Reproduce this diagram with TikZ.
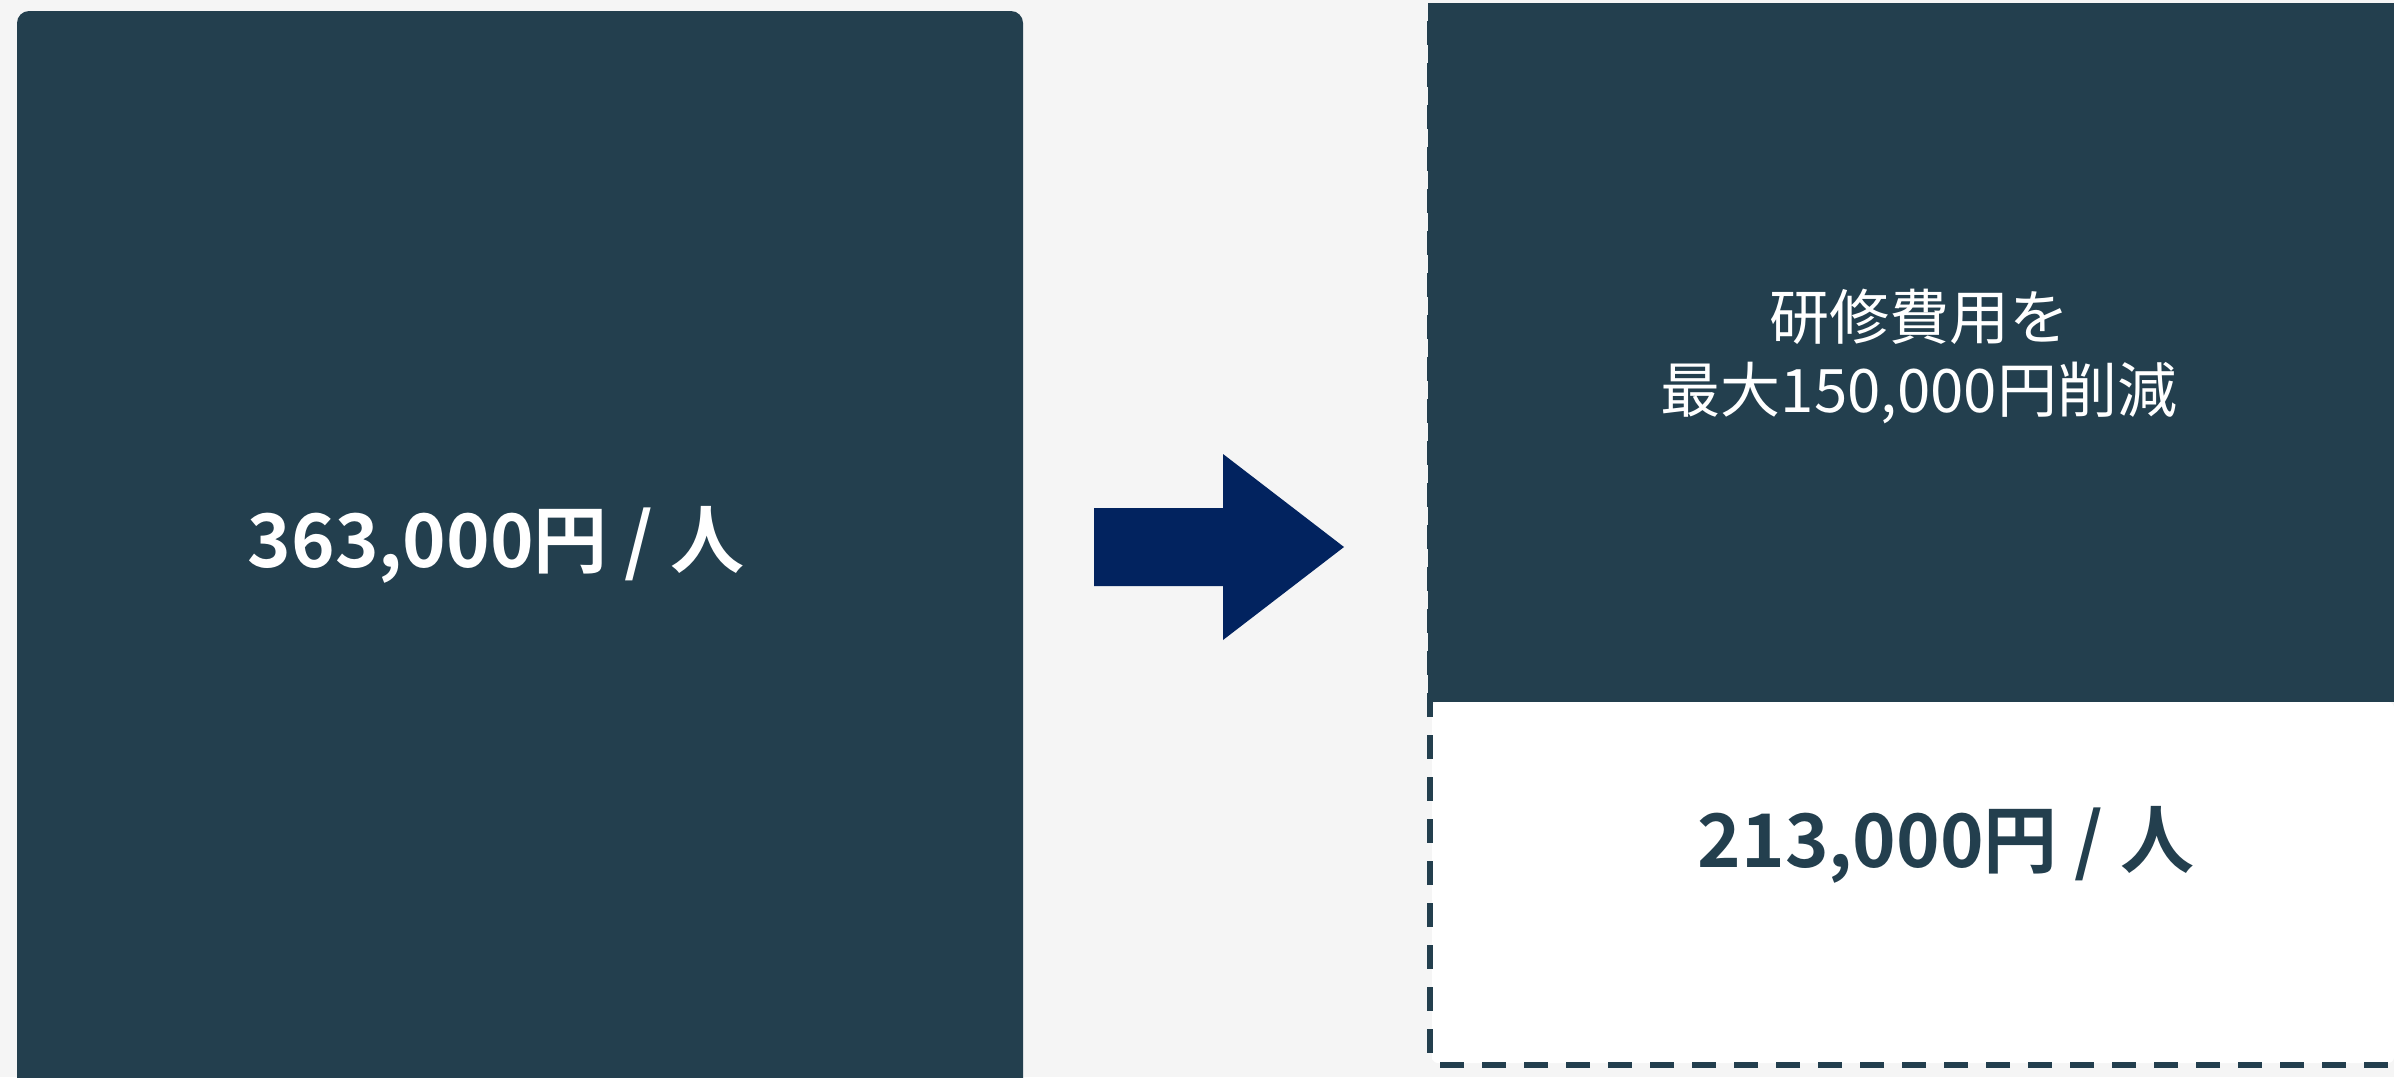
\documentclass[tikz,border=0pt]{standalone}
\usepackage{fontspec}
\usepackage{xcolor}
\usepackage{tikz}
\newfontfamily\cjk{Noto Sans CJK JP}
\newfontfamily\cjkbf{Noto Sans CJK JP Bold}

\definecolor{bgcol}{HTML}{F5F5F5}
\definecolor{boxcol}{HTML}{233F4E}
\definecolor{arrowcol}{HTML}{02235F}

\begin{document}
\begin{tikzpicture}[x=0.5pt,y=-0.5pt]
\useasboundingbox (0,0) rectangle (2394,1077);
\clip (0,0) rectangle (2394,1077);
\fill[bgcol] (0,0) rectangle (2394,1077);

% before
\fill[boxcol,rounded corners=6pt] (17,11) rectangle (1023,1120);
\node[white] (total) at (496,545) {\fontsize{37pt}{44pt}\cjkbf 363,000円 / 人};

% arrow
\fill[arrowcol] (1094,508) -- (1223,508) -- (1223,454) -- (1344,547)
  -- (1223,640) -- (1223,586) -- (1094,586) -- cycle;

% after
\fill[boxcol] (1428,3) rectangle (2394,702);
\fill[white] (1432,702) -- (1432,1060) [rounded corners=3pt] -- (1432,1063)
  -- (2394,1063) -- (2394,702) -- cycle;
\draw[boxcol,line width=3pt,dash pattern=on 12pt off 9pt,dash phase=12pt]
  (1429.5,3) -- (1429.5,1068);
\draw[boxcol,line width=3pt,dash pattern=on 12pt off 9pt,dash phase=17pt]
  (1432,1065) -- (2394,1065);

\node[white,align=center,font=\fontsize{30pt}{36.5pt}\cjk] (saving) at (1919,356)
  {研修費用を\\最大150,000円削減};
\node[boxcol] (after) at (1946,845) {\fontsize{37pt}{44pt}\cjkbf 213,000円 / 人};
\end{tikzpicture}
\end{document}
